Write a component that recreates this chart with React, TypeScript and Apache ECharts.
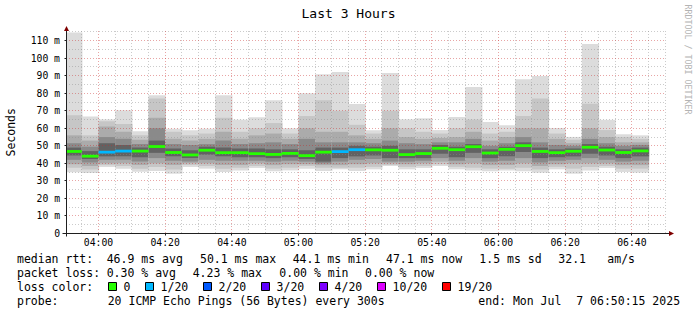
import React, { useEffect, useRef } from "react";
import * as echarts from "echarts";

// ---- time window ----
const windowStart = "03:50:15";
const windowEnd = "06:50:15";
const stepMinutes = 5;

// ---- 5-minute slots (start of each smoke column) ----
const slots = [
  "03:50", "03:55", "04:00", "04:05", "04:10", "04:15", "04:20", "04:25", "04:30", "04:35",
  "04:40", "04:45", "04:50", "04:55", "05:00", "05:05", "05:10", "05:15", "05:20", "05:25",
  "05:30", "05:35", "05:40", "05:45", "05:50", "05:55", "06:00", "06:05", "06:10", "06:15",
  "06:20", "06:25", "06:30", "06:35", "06:40",
];

// ---- smoke (ms): outermost band = min..max, inner bands darker ----
const maxMs = [114.6, 66.8, 65.1, 70.3, 58.3, 78.8, 59.8, 58.9, 59.8, 78.8, 64.9, 66.3, 76.0, 60.0, 80.0, 90.8, 92.1, 73.9, 58.9, 91.6, 65.1, 65.7, 59.0, 66.5, 83.6, 63.6, 61.7, 88.0, 89.8, 60.2, 55.1, 108.1, 64.8, 56.6, 56.0];
const up2 = [67.4, 56, 64, 62.5, 56, 77, 58, 56, 57, 66, 58, 60, 63, 57, 67, 76, 70, 62, 57, 70, 60, 58, 57, 60, 65, 57, 58, 67, 77, 57, 53.5, 74, 59, 55, 54];
const up3 = [56, 53, 61, 58, 53.5, 66, 54, 53, 54, 58, 54, 56, 57, 54, 60, 58, 58, 56, 54, 60, 55, 54, 54.5, 55, 58, 53, 55, 60, 60, 54, 51.5, 60, 55, 52, 52];
const up4 = [51.5, 49.5, 55, 54, 51, 60, 51, 50.5, 51, 53, 51, 51.5, 52, 51, 54, 52, 52, 52, 51.5, 53, 51.5, 51, 52, 52, 54, 50, 51.5, 55, 52, 50.5, 50, 54, 51.5, 50, 50.5];
const up5 = [49, 47, 51.5, 50.5, 49, 53, 48.5, 47.5, 49.5, 49, 48.5, 48.5, 48, 48, 47.5, 49, 49, 50, 49.5, 50, 48, 48, 50.5, 49.5, 51, 48, 49.5, 52, 49, 48, 48.5, 51, 49.5, 48, 49];
const medianMs = [46.8, 44.1, 46.4, 47.0, 47.0, 49.6, 46.2, 44.8, 47.5, 46.1, 46.1, 45.6, 45.1, 45.7, 44.4, 46.4, 46.7, 47.8, 47.7, 47.5, 45.0, 45.6, 48.6, 47.8, 49.5, 45.9, 48.0, 50.1, 46.8, 46.1, 46.9, 49.2, 47.6, 46.2, 47.1];
const lo5 = [44.5, 42.5, 44, 44, 43.5, 46, 44, 43, 45, 44, 43.5, 43.5, 43, 43.5, 42.5, 41, 43, 44, 44.5, 43, 43, 43, 45.5, 43.5, 46, 43, 44, 46.5, 43, 43.5, 44, 45.5, 44.5, 43, 44];
const lo4 = [42, 40.5, 42, 42, 41, 43, 41.5, 41, 42, 41.5, 41.5, 41.5, 41, 41.5, 41, 40, 41, 42, 42.5, 41, 41, 41.5, 43, 41.5, 43, 41, 41.5, 43, 40.5, 41.5, 42, 43, 42, 41, 41.5];
const lo3 = [39.5, 38.5, 40, 40, 39, 40, 39, 40, 40, 39, 39, 40, 39, 39.5, 39.5, 39, 39, 39.5, 40, 40, 39.5, 40, 41, 39.5, 40, 39, 39, 40, 38.5, 39.5, 40, 40, 40, 39, 39];
const lo2 = [37.5, 36.5, 39, 38.5, 37, 38, 36.5, 39, 38.5, 37, 37.5, 38.5, 37, 37.5, 38.5, 37.5, 37.5, 37.5, 38, 39, 38, 38.5, 39.5, 38, 37.5, 37, 37, 37.5, 36.5, 38, 37, 38, 38.5, 37, 37];
const minMs = [35, 34.5, 37.9, 37, 35.2, 35.7, 34.1, 37.9, 37, 35.1, 36, 37.4, 35.5, 36, 37, 35.7, 36.6, 35.7, 36.6, 38.5, 36.6, 37.4, 38.5, 36.6, 36, 35.5, 36, 35.5, 34.7, 36.6, 34.1, 36, 37.4, 35.1, 34.7];
const lossOf20 = [0, 0, 1, 1, 0, 0, 0, 0, 0, 0, 0, 0, 0, 0, 0, 0, 1, 1, 0, 0, 0, 0, 0, 0, 0, 0, 0, 0, 0, 0, 0, 0, 0, 0, 0];

// ---- axes ----
const xTickLabels = ["04:00", "04:20", "04:40", "05:00", "05:20", "05:40", "06:00", "06:20", "06:40"];
const yTickValues = [0, 10, 20, 30, 40, 50, 60, 70, 80, 90, 100, 110];
const yMax = 115.5;

// ---- legend ----
const lossLevels = [0, 1, 2, 3, 4, 10, 19];
const lossLegend = ["0", "1/20", "2/20", "3/20", "4/20", "10/20", "19/20"];
const lossColors = ["#26ff00", "#00b8ff", "#0059ff", "#5e00ff", "#7e00ff", "#dd00ff", "#ff0000"];
const rttStats = ["46.9 ms avg", "50.1 ms max", "44.1 ms min", "47.1 ms now", "1.5 ms sd", "32.1", "am/s"];
const lossStats = ["0.30 % avg", "4.23 % max", "0.00 % min", "0.00 % now"];
const probeText = "20 ICMP Echo Pings (56 Bytes) every 300s";
const endText = ["end: Mon Jul", "7 06:50:15 2025"];

const smokeGrays = ["#dcdcdc", "#c6c6c6", "#ababab", "#8a8a8a", "#626262"];
const FONT = '"DejaVu Sans Mono", monospace';

function toMin(s: string): number {
  const p = s.split(":").map(Number);
  return p[0] * 60 + p[1] + (p[2] || 0) / 60;
}
function lossColor(l: number): string {
  let c = lossColors[0];
  lossLevels.forEach((lv, i) => {
    if (l >= lv) c = lossColors[i];
  });
  return c;
}
function hhmm(v: number): string {
  const h = Math.floor(v / 60);
  const m = Math.round(v - h * 60);
  return String(h).padStart(2, "0") + ":" + String(m).padStart(2, "0");
}

export default function App() {
  const ref = useRef<HTMLDivElement>(null);
  useEffect(() => {
    const chart = echarts.init(ref.current!, null, { renderer: "svg" });
    const xMin = toMin(windowStart);
    const xMax = toMin(windowEnd);
    const bars = slots.map((s, i) => [toMin(s), toMin(s) + stepMinutes, i]);
    const xTickVals = xTickLabels.map(toMin);

    const minorX: number[] = [];
    for (let v = Math.ceil(xMin / stepMinutes) * stepMinutes; v <= xMax; v += stepMinutes) {
      if (xTickVals.indexOf(v) < 0) minorX.push(v);
    }
    const minorY: number[] = [];
    for (let v = 5; v < yMax; v += 10) minorY.push(v);

    const smokeItem = (params: any, api: any) => {
      const i = api.value(2) as number;
      const cs = params.coordSys;
      const x0 = api.coord([api.value(0), 0])[0];
      const x1 = api.coord([api.value(1), 0])[0];
      const left = Math.max(x0, cs.x);
      const right = Math.min(x1 + 0.6, cs.x + cs.width);
      const bands = [
        [minMs[i], maxMs[i]],
        [lo2[i], up2[i]],
        [lo3[i], up3[i]],
        [lo4[i], up4[i]],
        [lo5[i], up5[i]],
      ];
      const children = bands.map((b, j) => {
        const yT = api.coord([0, b[1]])[1];
        const yB = api.coord([0, b[0]])[1];
        return {
          type: "rect",
          shape: { x: left, y: yT, width: right - left, height: yB - yT },
          style: { fill: smokeGrays[j] },
        };
      });
      return { type: "group", children };
    };

    const medianItem = (params: any, api: any) => {
      const i = api.value(2) as number;
      const cs = params.coordSys;
      const x0 = api.coord([api.value(0), 0])[0];
      const x1 = api.coord([api.value(1), 0])[0];
      const left = Math.max(x0, cs.x);
      const right = Math.min(x1, cs.x + cs.width);
      const y = api.coord([0, medianMs[i]])[1];
      return {
        type: "rect",
        shape: { x: left, y: y - 1.4, width: right - left, height: 2.8 },
        style: { fill: lossColor(lossOf20[i]) },
      };
    };

    const gridItem = (params: any, api: any) => {
      const cs = params.coordSys;
      const L = cs.x, R = cs.x + cs.width, T = cs.y, B = cs.y + cs.height;
      const cr = (v: number) => Math.floor(v) + 0.5;
      const children: any[] = [];
      const minorStyle = { stroke: "rgba(140,140,140,0.45)", lineWidth: 1, lineDash: [1, 2] };
      const majorStyle = { stroke: "rgba(200,40,40,0.42)", lineWidth: 1, lineDash: [1, 2] };
      minorX.forEach((v) => {
        const x = cr(api.coord([v, 0])[0]);
        children.push({ type: "line", shape: { x1: x, y1: T, x2: x, y2: B }, style: minorStyle });
      });
      minorY.forEach((v) => {
        const y = cr(api.coord([xMin, v])[1]);
        children.push({ type: "line", shape: { x1: L, y1: y, x2: R, y2: y }, style: minorStyle });
      });
      xTickVals.forEach((v) => {
        const x = cr(api.coord([v, 0])[0]);
        children.push({ type: "line", shape: { x1: x, y1: T, x2: x, y2: B }, style: majorStyle });
      });
      yTickValues.forEach((v) => {
        if (v === 0) return;
        const y = cr(api.coord([xMin, v])[1]);
        children.push({ type: "line", shape: { x1: L, y1: y, x2: R, y2: y }, style: majorStyle });
      });
      return { type: "group", children };
    };

    const axesItem = (params: any, api: any) => {
      const cs = params.coordSys;
      const L = Math.floor(cs.x) + 0.5;
      const R = cs.x + cs.width;
      const T = cs.y;
      const B = Math.floor(cs.y + cs.height) + 0.5;
      const axisStyle = { stroke: "#1f1f1f", lineWidth: 1 };
      const arrow = { fill: "#7f0000" };
      const children: any[] = [
        { type: "line", shape: { x1: L, y1: B + 3, x2: L, y2: T }, style: axisStyle },
        { type: "line", shape: { x1: L - 4, y1: B, x2: R + 3, y2: B }, style: axisStyle },
        { type: "polygon", shape: { points: [[L - 2.5, T], [L + 2.5, T], [L, T - 5]] }, style: arrow },
        { type: "polygon", shape: { points: [[R + 3, B - 2.5], [R + 3, B + 2.5], [R + 8, B]] }, style: arrow },
      ];
      yTickValues.forEach((v) => {
        const y = Math.floor(api.coord([xMin, v])[1]) + 0.5;
        children.push({ type: "line", shape: { x1: L - 2, y1: y, x2: L, y2: y }, style: axisStyle });
      });
      xTickVals.forEach((v) => {
        const x = Math.floor(api.coord([v, 0])[0]) + 0.5;
        children.push({ type: "line", shape: { x1: x, y1: B, x2: x, y2: B + 2 }, style: axisStyle });
      });
      return { type: "group", children };
    };

    const txt = (text: string, x: number, y: number, size = 11.5, extra: any = {}) => ({
      type: "text",
      x,
      y,
      silent: true,
      ...extra,
      style: {
        text,
        fontFamily: FONT,
        fontSize: size,
        fill: "#000",
        verticalAlign: "middle",
        align: "left",
        ...(extra.style || {}),
      },
    });

    const rttX = [106.7, 200, 292.7, 386, 479.3, 558.3, 607.3];
    const lossX = [106.7, 192.7, 279.3, 365];
    const legTextX = [123.5, 160.6, 218.6, 276.6, 334.6, 392.6, 457.6];

    const graphics: any[] = [
      txt("Last 3 Hours", 348.5, 13, 13, { style: { align: "center" } }),
      txt("Seconds", 10.5, 132.3, 11.5, { rotation: Math.PI / 2, style: { align: "center" } }),
      txt("RRDTOOL / TOBI OETIKER", 687.5, 59.5, 8.3, {
        rotation: -Math.PI / 2,
        style: { align: "center", fill: "#b4b4b4" },
      }),
      txt("median rtt:", 17, 259.3),
      txt("packet loss:", 17, 273),
      txt("loss color:", 17, 287),
      txt("probe:", 17, 301.2),
      txt(probeText, 107.7, 301.2),
      txt(endText[0], 478.3, 301.2),
      txt(endText[1], 576.2, 301.2),
    ];
    rttStats.forEach((s, i) => graphics.push(txt(s, rttX[i], 259.3)));
    lossStats.forEach((s, i) => graphics.push(txt(s, lossX[i], 273)));
    lossLegend.forEach((s, i) => {
      graphics.push({
        type: "rect",
        silent: true,
        shape: { x: Math.floor(legTextX[i] - 15) + 0.5, y: 282.5, width: 8, height: 8 },
        style: { fill: lossColors[i], stroke: "#000", lineWidth: 1 },
      });
      graphics.push(txt(s, legTextX[i], 287));
    });

    const option: any = {
      animation: false,
      backgroundColor: "#ffffff",
      grid: { left: 66, top: 31, width: 600, height: 202.5, containLabel: false },
      xAxis: {
        type: "value",
        min: xMin,
        max: xMax,
        splitNumber: 9,
        axisLine: { show: false },
        axisTick: { show: false },
        splitLine: { show: false },
        axisLabel: {
          customValues: xTickVals,
          formatter: (v: number) => hhmm(v),
          fontFamily: FONT,
          fontSize: 9.75,
          color: "#000",
          margin: 4,
        },
      },
      yAxis: {
        type: "value",
        min: 0,
        max: yMax,
        interval: 10,
        axisLine: { show: false },
        axisTick: { show: false },
        splitLine: { show: false },
        axisLabel: {
          customValues: yTickValues,
          formatter: (v: number) => (v === 0 ? "0" : v + " m"),
          fontFamily: FONT,
          fontSize: 9.75,
          color: "#000",
          margin: 6,
        },
      },
      series: [
        {
          type: "custom",
          name: "smoke",
          renderItem: smokeItem,
          data: bars,
          encode: { x: [0, 1], y: 2 },
          silent: true,
          z: 1,
        },
        {
          type: "custom",
          name: "grid",
          renderItem: gridItem,
          data: [[xMin, 0]],
          encode: { x: 0, y: 1 },
          silent: true,
          z: 2,
        },
        {
          type: "custom",
          name: "median",
          renderItem: medianItem,
          data: bars,
          encode: { x: [0, 1], y: 2 },
          silent: true,
          z: 3,
        },
        {
          type: "custom",
          name: "axes",
          renderItem: axesItem,
          data: [[xMin, 0]],
          encode: { x: 0, y: 1 },
          clip: false,
          silent: true,
          z: 4,
        },
      ],
      graphic: graphics,
    };
    chart.setOption(option);
    return () => chart.dispose();
  }, []);
  return (
    <div
      ref={ref}
      style={{ position: "absolute", left: 0, top: 0, width: 697, height: 315, background: "#fff" }}
    />
  );
}
